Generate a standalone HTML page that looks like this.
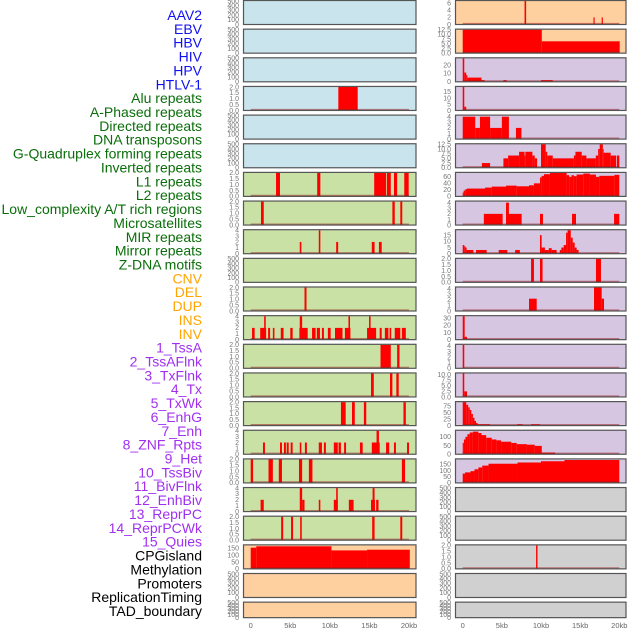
<!DOCTYPE html>
<html><head><meta charset="utf-8"><style>
html,body{margin:0;padding:0;background:#fff;width:630px;height:630px;overflow:hidden}
svg{display:block;font-family:"Liberation Sans",sans-serif}
</style></head><body>
<svg id="chart" width="630" height="630" viewBox="0 0 630 630" xmlns="http://www.w3.org/2000/svg"></svg>
<script>
// ---- track labels ----
const labels = ["AAV2","EBV","HBV","HIV","HPV","HTLV-1","Alu repeats","A-Phased repeats","Directed repeats","DNA transposons","G-Quadruplex forming repeats","Inverted repeats","L1 repeats","L2 repeats","Low_complexity A/T rich regions","Microsatellites","MIR repeats","Mirror repeats","Z-DNA motifs","CNV","DEL","DUP","INS","INV","1_TssA","2_TssAFlnk","3_TxFlnk","4_Tx","5_TxWk","6_EnhG","7_Enh","8_ZNF_Rpts","9_Het","10_TssBiv","11_BivFlnk","12_EnhBiv","13_ReprPC","14_ReprPCWk","15_Quies","CPGisland","Methylation","Promoters","ReplicationTiming","TAD_boundary"];
const labelGroups = [6,13,5,15,5];
const groupColors = ["#1010f0","#0a6e0a","#ffa500","#a030f0","#000000"];
// ---- x axis ----
const xTicks = [0,5,10,15,20];
const xTickLabels = ["0","5kb","10kb","15kb","20kb"];
// ---- left column bars [startKb, endKb, value] ----
const L3 = [[11.07,13.52,2]];
const L6 = [[3.2,3.7,2],[8.4,8.8,2],[15.6,17.1,2],[17.2,17.7,2],[18.1,18.5,2],[19.4,19.96,2]];
const L7 = [[1.3,1.65,2],[17.9,18.2,2],[18.9,19.15,2]];
const L8 = [[6.2,6.4,2],[8.6,8.8,4],[10.8,11.05,2],[15.3,15.65,2],[16.2,16.55,2]];
const L10 = [[6.8,7.05,2]];
const L11 = [[0.17,0.5,2],[1.2,1.95,2],[1.7,1.9,4],[2.2,2.45,2],[2.8,3.0,2],[3.8,4.15,2],[5.0,5.3,2],[6.15,7.2,2],[6.2,6.5,4],[7.75,8.2,2],[8.35,8.75,2],[9.0,9.25,2],[9.75,10.1,2],[10.65,11.6,2],[11.9,12.6,2],[12.35,12.55,4],[14.7,15.85,2],[14.95,15.15,4],[16.3,16.55,2],[16.95,17.4,2],[17.55,17.75,2],[18.2,18.9,2],[19.1,19.6,2]];
const L12 = [[16.4,17.7,2],[18.5,18.8,2]];
const L13 = [[15.2,15.55,2],[17.6,17.9,2],[18.4,18.7,2]];
const L14 = [[11.4,12.0,2],[12.8,13.15,2],[14.3,14.6,2],[19.3,19.6,2]];
const L15 = [[1.55,1.8,2],[3.7,3.95,2],[4.2,4.45,2],[4.55,4.8,2],[5.05,5.3,2],[6.2,6.4,2],[6.85,7.1,2],[8.6,9.0,2],[9.25,9.5,2],[10.5,11.0,2],[11.1,11.4,2],[11.8,12.05,2],[13.8,14.15,2],[15.3,16.3,2],[15.9,16.2,4],[17.1,17.5,2],[18.1,18.35,2],[19.75,20.0,2]];
const L16 = [[0,0.3,2],[2.25,2.8,2],[3.55,3.95,2],[6.1,6.5,2],[7.35,7.8,2],[19.1,19.5,2]];
const L17 = [[1.25,1.65,2],[6.2,6.5,4],[6.5,6.8,2],[8.6,8.8,2],[10.5,11.0,2],[10.8,11.0,4],[12.4,13.0,2],[15.2,15.7,2],[15.4,15.65,4],[15.85,16.15,2]];
const L18 = [[3.85,4.1,2],[5.1,5.35,2],[6.25,6.45,2],[15.35,15.65,2],[18.9,19.15,2]];
const L19 = [[0,0.7,155],[0.7,10.2,165],[10.2,14.7,135],[14.7,20.1,140]];
// ---- right column bars ----
const R0 = [[7.9,8.1,7],[16.7,16.85,2],[17.75,17.9,2]];
const R1 = [[0,10.1,12.5],[10.1,20.05,6.3]];
const R2 = [[0,0.2,28],[0.2,0.45,11],[0.45,0.6,8],[0.6,2.4,5],[2.4,2.8,2],[5.2,5.6,2],[10.0,11.5,2]];
const R3 = [[0,0.2,19],[0.2,0.45,3]];
const R4 = [[0,1.6,4],[1.6,2.2,2],[2.2,3.5,4],[3.5,5.0,2],[5.0,5.9,4],[6.8,7.5,2]];
const R5 = [[2.45,3.5,2.5],[5.2,5.8,5],[5.8,7.2,6.5],[7.2,7.9,8.5],[7.9,8.0,6.5],[8.0,8.9,8.5],[8.9,9.2,6.5],[9.2,9.5,5],[10.0,10.6,12.5],[10.6,10.8,8.5],[10.8,11.5,6.5],[11.5,14.2,5],[14.2,14.4,6.5],[14.4,15.2,8.5],[15.2,15.8,6.5],[15.8,17.0,5],[17.0,17.3,6.5],[17.3,17.5,10],[17.5,17.9,12.5],[17.9,18.0,10],[18.0,18.9,8],[18.9,19.6,6.5],[19.7,20.0,6.5]];
const R6 = [[0,0.12,12],[0.12,0.33,18],[0.33,0.55,22],[0.55,2.85,24],[2.85,3.7,27],[3.7,5.53,30],[5.53,6.9,33],[6.9,8.47,31],[8.47,9.1,34],[9.1,9.87,40],[9.87,10.08,58],[10.08,10.38,63],[10.38,11.14,68],[11.14,13.27,72],[13.27,13.6,65],[13.6,13.9,60],[13.9,14.2,65],[14.2,14.55,62],[14.55,15.4,67],[15.4,16.25,70],[16.25,17.02,67],[17.02,17.45,60],[17.45,19.37,63],[19.37,20.0,66]];
const R7 = [[2.7,5.1,2],[5.53,7.53,2],[5.53,5.9,4],[9.87,10.25,2],[13.96,14.47,2],[19.33,20.0,2]];
const R8 = [[0,0.2,7],[0.2,0.35,6],[0.35,0.5,5],[0.5,1.36,3],[1.7,3.06,3],[4.6,5.7,3],[6.7,7.3,3],[9.87,10.08,15],[10.08,10.5,5],[10.5,11.0,3],[11.0,11.36,4.5],[11.36,12.0,3],[12.4,12.6,3],[12.6,12.9,5],[12.9,13.2,7],[13.2,13.4,17],[13.4,13.8,19],[13.8,14.05,13],[14.05,14.3,9],[14.3,14.55,5],[14.55,14.8,3]];
const R9 = [[8.73,9.1,2],[9.87,10.2,2],[17.02,17.66,2]];
const R10 = [[8.47,9.45,2.2],[16.77,17.75,4.4],[17.75,18.05,2.2]];
const R11 = [[0,0.25,33],[0.25,0.55,4]];
const R12 = [[0,0.2,4.2]];
const R13 = [[0,0.2,10.5],[0.2,0.55,2.5]];
const R14 = [[0,0.45,90],[0.45,0.7,80],[0.7,0.9,70],[0.9,1.1,60],[1.1,1.3,45],[1.3,1.5,30],[1.5,1.7,18],[1.7,1.9,10],[1.9,3.5,5],[6.95,7.66,5],[8.73,9.87,5]];
const R15 = [[0,0.15,65],[0.15,0.35,85],[0.35,0.6,100],[0.6,0.9,115],[0.9,1.3,125],[1.3,2.0,130],[2.0,2.4,122],[2.4,3.0,110],[3.0,3.7,95],[3.7,4.3,85],[4.3,4.9,80],[4.9,6.2,72],[6.2,6.9,65],[6.9,8.2,58],[8.2,9.2,55],[9.2,10.1,48],[10.1,11.8,10],[11.8,20.0,2]];
const R16 = [[0,0.3,75],[0.3,1.0,85],[1.0,1.5,95],[1.5,2.0,110],[2.0,2.5,125],[2.5,3.3,140],[3.3,7.0,155],[7.0,10.0,165],[10.0,13.0,175],[13.0,20.0,185]];
const R19 = [[9.37,9.55,2]];
// ---- per-row panel data ----
const leftBars = [[],[],[],L3,[],[],L6,L7,L8,[],L10,L11,L12,L13,L14,L15,L16,L17,L18,L19,[],[]];
const rightBars = [R0,R1,R2,R3,R4,R5,R6,R7,R8,R9,R10,R11,R12,R13,R14,R15,R16,[],[],R19,[],[]];
const leftYmax = [500,500,500,2,500,500,2,2,4,500,2,4,2,2,2,4,2,4,2,172,500,500];
const rightYmax = [6.6,12.5,28,19,4.2,12.5,72,4.2,19,2,4.2,33,4.2,10.5,90,135,190,500,500,2,500,500];
const ticks500 = [0,100,200,300,400,500];
const ticks2 = [0,0.5,1,1.5,2];
const ticks4 = [0,1,2,3,4];
const leftTicks = [ticks500,ticks500,ticks500,ticks2,ticks500,ticks500,ticks2,ticks2,ticks4,ticks500,ticks2,ticks4,ticks2,ticks2,ticks2,ticks4,ticks2,ticks4,ticks2,[0,50,100,150],ticks500,ticks500];
const rightTicks = [[0,2,4,6],[0,2.5,5,7.5,10,12.5],[0,10,20],[0,5,10,15],ticks4,[0,2.5,5,7.5,10,12.5],[0,20,40,60],ticks4,[0,5,10,15],ticks2,ticks4,[0,10,20,30],ticks4,[0,2.5,5,7.5,10],[0,25,50,75],[0,50,100],[0,50,100,150],ticks500,ticks500,ticks2,ticks500,ticks500];
const leftFill = ["#c9e4ec","#c9e4ec","#c9e4ec","#c9e4ec","#c9e4ec","#c9e4ec","#c9e1a5","#c9e1a5","#c9e1a5","#c9e1a5","#c9e1a5","#c9e1a5","#c9e1a5","#c9e1a5","#c9e1a5","#c9e1a5","#c9e1a5","#c9e1a5","#c9e1a5","#fecf9f","#fecf9f","#fecf9f"];
const rightFill = ["#fecf9f","#fecf9f","#d6c6e2","#d6c6e2","#d6c6e2","#d6c6e2","#d6c6e2","#d6c6e2","#d6c6e2","#d6c6e2","#d6c6e2","#d6c6e2","#d6c6e2","#d6c6e2","#d6c6e2","#d6c6e2","#d6c6e2","#d0d0d0","#d0d0d0","#d0d0d0","#d0d0d0","#d0d0d0"];

const NS = "http://www.w3.org/2000/svg";
const svg = document.getElementById("chart");
function mk(tag, attrs, parent){const e=document.createElementNS(NS,tag);for(const k in attrs)e.setAttribute(k,attrs[k]);(parent||svg).appendChild(e);return e;}
const cols = [{x0:243.5,w:172.5,z:250.7,s:7.915,lab:239},{x0:455.5,w:170.5,z:462.7,s:7.83,lab:451}];
function rowTop(i){return i*28.65+0.5;}
function rowH(i){return i===21?15.5:24;}
function fmt(v,arr){const dec=arr.some(t=>t%1!==0);return dec?v.toFixed(1):String(v);}

// labels
let gi=0, gc=0;
labels.forEach((t,i)=>{
  const el=mk("text",{x:202,y:20+i*13.86,"text-anchor":"end","font-size":"14",fill:groupColors[gi]});
  el.textContent=t;
  
  
  gc++; if(gc>=labelGroups[gi]){gi++;gc=0;}
});

[ [leftBars,leftYmax,leftTicks,leftFill], [rightBars,rightYmax,rightTicks,rightFill] ].forEach((cfg,ci)=>{
  const [bars,ymax,tks,fills]=cfg; const c=cols[ci];
  for(let i=0;i<22;i++){
    const top=rowTop(i), h=rowH(i), bot=top+h;
    const g=mk("g",{});
    
    
    const cid="clip"+ci+"_"+i;
    const cp=mk("clipPath",{id:cid},g); mk("rect",{x:c.x0,y:top,width:c.w,height:h},cp);
    mk("rect",{x:c.x0,y:top,width:c.w,height:h,fill:fills[i]},g);
    const yv=v=>bot-(h-0.5)*v/ymax[i];
    const xk=k=>c.z+c.s*k;
    const bg=mk("g",{"clip-path":"url(#"+cid+")"},g);
    if(bars[i].length){
      bars[i].forEach((b,j)=>{
        const r=mk("rect",{x:xk(b[0]),y:yv(b[2]),width:Math.max(0.8,xk(b[1])-xk(b[0])),height:bot-yv(b[2]),fill:"#ff0000"},bg);
        
        
      });
      const bl=mk("line",{x1:xk(0),x2:xk(20),y1:bot-0.8,y2:bot-0.8,stroke:"rgba(150,20,20,0.5)","stroke-width":1.6},bg);
      
      
    }
    mk("rect",{x:c.x0,y:top,width:c.w,height:h,fill:"none",stroke:"#555","stroke-width":1.2},g);
    tks[i].forEach(t=>{
      const tl=mk("text",{x:c.lab,y:yv(t)+2.3,"text-anchor":"end","font-size":"7",fill:"#777"},g);
      tl.textContent=fmt(t,tks[i]);
      
      
    });
  }
  xTicks.forEach((k,j)=>{
    const t=mk("text",{x:c.z+c.s*k,y:628,"text-anchor":"middle","font-size":"7.5",fill:"#666"});
    t.textContent=xTickLabels[j];
    
    
  });
});
</script>
</body></html>
